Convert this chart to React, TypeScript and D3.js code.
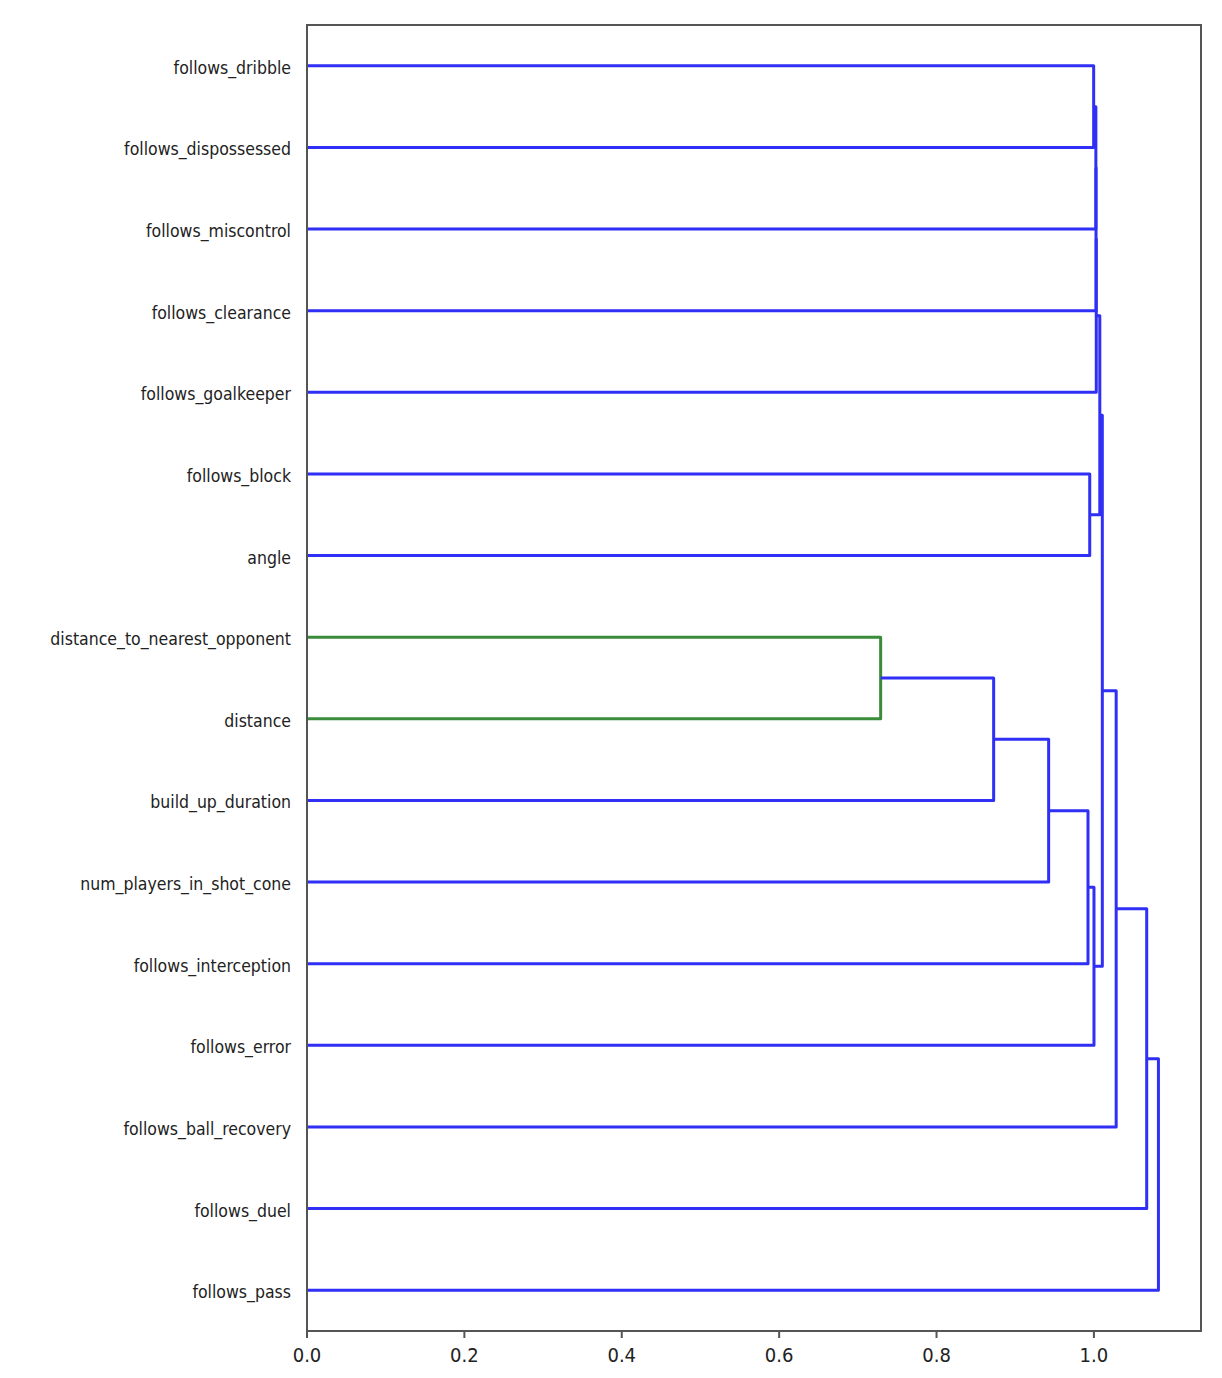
import React from 'react';
import * as d3 from 'd3';

// leaves, top to bottom as shown
const leaves = [
  'follows_dribble',
  'follows_dispossessed',
  'follows_miscontrol',
  'follows_clearance',
  'follows_goalkeeper',
  'follows_block',
  'angle',
  'distance_to_nearest_opponent',
  'distance',
  'build_up_duration',
  'num_players_in_shot_cone',
  'follows_interception',
  'follows_error',
  'follows_ball_recovery',
  'follows_duel',
  'follows_pass',
];

// merges: [left, right, height]; ids >= 16 refer to earlier merges (scipy style)
const merges: [number, number, number][] = [
  [0, 1, 0.9997],   // 16
  [16, 2, 1.0025],  // 17
  [17, 3, 1.0027],  // 18
  [18, 4, 1.003],   // 19
  [5, 6, 0.9947],   // 20
  [19, 20, 1.0075], // 21
  [7, 8, 0.729],    // 22
  [22, 9, 0.8726],  // 23
  [23, 10, 0.9425], // 24
  [24, 11, 0.9925], // 25
  [25, 12, 1.0001], // 26
  [21, 26, 1.0107], // 27
  [27, 13, 1.0283], // 28
  [28, 14, 1.0671], // 29
  [29, 15, 1.082],  // 30
];

const greenMerges = [22];
const xTicks = [0, 0.2, 0.4, 0.6, 0.8, 1.0];

const W = 1222;
const H = 1378;
const margin = { left: 307, right: 21, top: 25, bottom: 47 };

const BLUE = '#2f2ff5';
const GREEN = '#3a8c3a';

const App = () => {
  const maxH = d3.max(merges, (m) => m[2]) as number;
  const x = d3.scaleLinear().domain([0, maxH * 1.05]).range([margin.left, W - margin.right]);
  const y = d3.scaleBand<string>().domain(leaves).range([margin.top, H - margin.bottom]).padding(0);
  const n = leaves.length;

  // position of every node: leaf or merge
  const pos: { y: number; h: number }[] = leaves.map((l) => ({ y: (y(l) as number) + y.bandwidth() / 2, h: 0 }));
  merges.forEach(([a, b, h]) => {
    pos.push({ y: (pos[a].y + pos[b].y) / 2, h });
  });

  const links = merges.map(([a, b, h], i) => {
    const pa = pos[a];
    const pb = pos[b];
    const path = d3.path();
    path.moveTo(x(pa.h), pa.y);
    path.lineTo(x(h), pa.y);
    path.lineTo(x(h), pb.y);
    path.lineTo(x(pb.h), pb.y);
    return { d: path.toString(), color: greenMerges.includes(i + n) ? GREEN : BLUE };
  });

  const bottom = H - margin.bottom;
  const font = "'DejaVu Sans Condensed', 'DejaVu Sans', sans-serif";

  return (
    <svg width={W} height={H} style={{ position: 'absolute', left: 0, top: 0, background: '#fff' }}>
      {links.map((l, i) => (
        <path key={i} d={l.d} fill="none" stroke={l.color} strokeWidth={3} strokeLinejoin="round" />
      ))}
      <rect
        x={margin.left}
        y={margin.top}
        width={W - margin.right - margin.left}
        height={bottom - margin.top}
        fill="none"
        stroke="#555"
        strokeWidth={2}
      />
      {leaves.map((l) => (
        <text
          key={l}
          x={margin.left - 16}
          y={(y(l) as number) + y.bandwidth() / 2 + 2}
          textAnchor="end"
          dominantBaseline="central"
          fontFamily={font}
          fontStretch="condensed"
          fontSize={17.5}
          fill="#222"
        >
          {l}
        </text>
      ))}
      {xTicks.map((t) => (
        <g key={t} transform={`translate(${x(t)},${bottom})`}>
          <line y1={0} y2={7} stroke="#555" strokeWidth={2} />
          <text
            y={24}
            textAnchor="middle"
            dominantBaseline="central"
            fontFamily={font}
            fontStretch="condensed"
            fontSize={20}
            fill="#222"
          >
            {t.toFixed(1)}
          </text>
        </g>
      ))}
    </svg>
  );
};

export default App;
